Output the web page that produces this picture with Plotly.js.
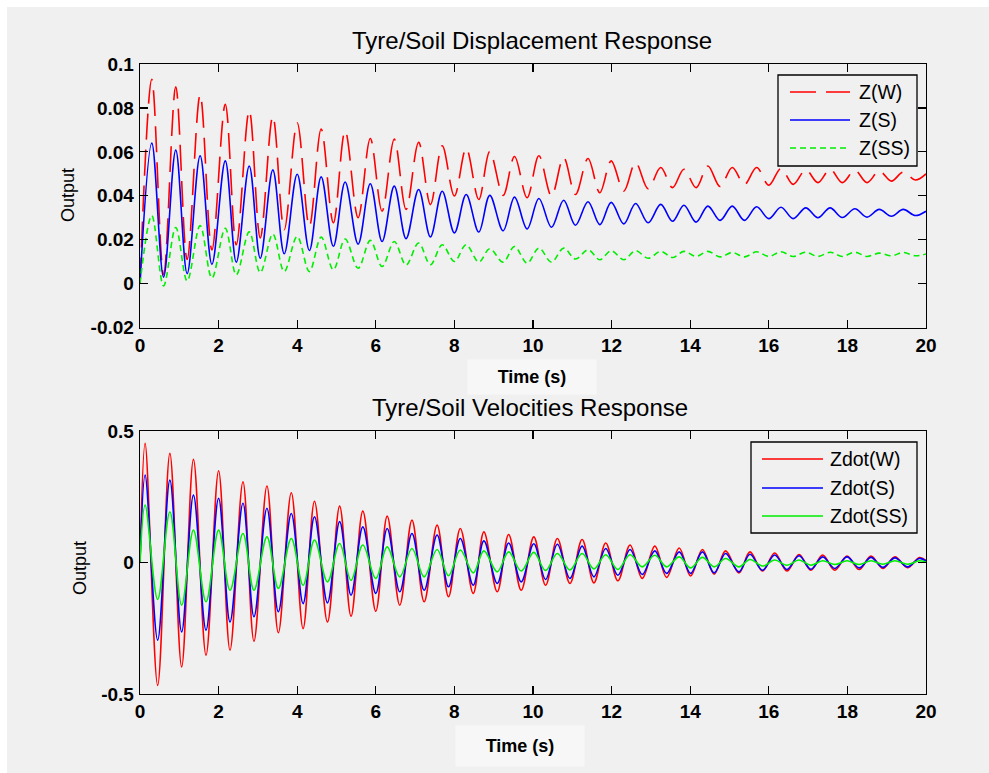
<!DOCTYPE html>
<html><head><meta charset="utf-8">
<script src="https://cdn.plot.ly/plotly-3.0.1.min.js"></script>
<style>
html,body{margin:0;padding:0;background:#ffffff;overflow:hidden;width:989px;height:773px}
#chart{position:absolute;left:7px;top:7px;width:982px;height:766px;}
</style>
</head><body><div id="chart"></div>
<script>
// ---------- data ----------
// Displacement plot: times of successive maxima / minima (s)
const dispPeakTimes = [0.30,0.91,1.53,2.17,2.78,3.38,4.00,4.61,5.22,5.86,6.47,7.09,7.69,8.30,8.90,9.53,10.15,10.78,11.40,11.99,12.61,13.25,13.84,14.45,15.07,15.69,16.31,16.94,17.56,18.19,18.81,19.42];
const dispTroughTimes = [0.60,1.20,1.83,2.45,3.06,3.67,4.31,4.92,5.55,6.16,6.77,7.39,8.00,8.62,9.24,9.85,10.47,11.08,11.70,12.31,12.93,13.55,14.15,14.76,15.38,16.00,16.62,17.25,17.87,18.50,19.12,19.73];
const tStart = 0, tEnd = 20;

const zW_peaks = [0.093,0.0896,0.086,0.0816,0.0788,0.0762,0.0732,0.0704,0.0696,0.0661,0.0658,0.0643,0.0628,0.0616,0.0602,0.0579,0.0582,0.0574,0.057,0.0559,0.0551,0.0529,0.0521,0.0536,0.0529,0.0529,0.0524,0.0518,0.0521,0.0516,0.0513,0.0508];
const zW_troughs = [0.004,0.011,0.0154,0.0177,0.0208,0.0246,0.0261,0.0277,0.030,0.033,0.0338,0.036,0.0399,0.0383,0.0402,0.0391,0.0399,0.0406,0.0414,0.0421,0.0432,0.0437,0.0437,0.0442,0.0452,0.0448,0.0452,0.046,0.046,0.046,0.0467,0.0472];
const zW_start = 0, zW_end = 0.050;

const zS_peaks = [0.064,0.0608,0.0582,0.0559,0.0536,0.0518,0.0498,0.0486,0.0463,0.0455,0.0444,0.0429,0.0421,0.0406,0.0402,0.0394,0.0388,0.038,0.0373,0.037,0.0365,0.0361,0.0357,0.0353,0.0353,0.035,0.0348,0.0345,0.0345,0.0341,0.0338,0.0338];
const zS_troughs = [0.003,0.0046,0.0088,0.0098,0.0116,0.0136,0.0151,0.017,0.018,0.0192,0.0205,0.0213,0.0231,0.0235,0.0241,0.0249,0.0257,0.0266,0.0269,0.0272,0.0277,0.0284,0.028,0.0288,0.0288,0.0296,0.0296,0.030,0.0301,0.0303,0.0307,0.031];
const zS_start = 0, zS_end = 0.033;

const zSS_peaks = [0.031,0.0256,0.0264,0.0252,0.0236,0.0226,0.0215,0.0212,0.0203,0.0197,0.0192,0.0185,0.0177,0.0177,0.0159,0.0169,0.0162,0.0162,0.0154,0.015,0.015,0.0147,0.0147,0.0147,0.0142,0.0145,0.0145,0.0143,0.0143,0.0143,0.0139,0.0142];
const zSS_troughs = [-0.001,0.0012,0.0025,0.004,0.005,0.0055,0.0055,0.0063,0.007,0.0078,0.0085,0.0086,0.0101,0.0098,0.0098,0.0093,0.0098,0.0112,0.0109,0.0109,0.0116,0.0119,0.0124,0.0122,0.0122,0.0124,0.0124,0.0124,0.0124,0.0124,0.0127,0.0127];
const zSS_start = 0, zSS_end = 0.0135;

// Velocity plot: times of successive maxima / minima (s)
const velPeakTimes = [0.13,0.76,1.36,2.00,2.62,3.23,3.85,4.44,5.08,5.67,6.29,6.92,7.56,8.15,8.75,9.38,10.02,10.62,11.25,11.85,12.47,13.10,13.72,14.31,14.90,15.52,16.15,16.77,17.37,17.99,18.60,19.21,19.83];
const velTroughTimes = [0.45,1.06,1.68,2.29,2.90,3.52,4.15,4.77,5.37,6.00,6.61,7.23,7.85,8.48,9.09,9.70,10.32,10.94,11.55,12.16,12.78,13.40,14.01,14.61,15.24,15.84,16.46,17.07,17.68,18.30,18.90,19.53];

const zdW_peaks = [0.454,0.416,0.393,0.35,0.308,0.292,0.266,0.234,0.215,0.196,0.177,0.162,0.143,0.130,0.117,0.107,0.098,0.092,0.088,0.075,0.067,0.063,0.056,0.05,0.045,0.041,0.037,0.031,0.029,0.025,0.025,0.022,0.019];
const zdW_troughs = [-0.467,-0.397,-0.352,-0.333,-0.299,-0.267,-0.251,-0.226,-0.204,-0.185,-0.162,-0.149,-0.130,-0.117,-0.111,-0.105,-0.086,-0.079,-0.077,-0.069,-0.06,-0.056,-0.051,-0.044,-0.039,-0.032,-0.032,-0.029,-0.029,-0.026,-0.022,-0.019];
const zdW_start = 0, zdW_end = 0.008;

const zdS_peaks = [0.333,0.314,0.257,0.245,0.226,0.207,0.187,0.175,0.156,0.136,0.130,0.111,0.105,0.092,0.083,0.075,0.072,0.07,0.063,0.054,0.05,0.045,0.041,0.041,0.035,0.032,0.029,0.026,0.022,0.022,0.02,0.018,0.016];
const zdS_troughs = [-0.295,-0.264,-0.257,-0.226,-0.206,-0.187,-0.156,-0.153,-0.124,-0.117,-0.111,-0.105,-0.092,-0.086,-0.079,-0.073,-0.064,-0.06,-0.054,-0.048,-0.045,-0.041,-0.041,-0.039,-0.035,-0.029,-0.026,-0.025,-0.022,-0.02,-0.018,-0.016];
const zdS_start = 0, zdS_end = 0.006;

const zdSS_peaks = [0.219,0.194,0.124,0.124,0.111,0.098,0.092,0.086,0.073,0.067,0.06,0.054,0.05,0.048,0.045,0.041,0.039,0.035,0.035,0.03,0.03,0.028,0.022,0.02,0.016,0.012,0.01,0.01,0.007,0.007,0.007,0.007,0.007];
const zdSS_troughs = [-0.14,-0.162,-0.149,-0.105,-0.105,-0.098,-0.086,-0.073,-0.067,-0.06,-0.054,-0.054,-0.05,-0.039,-0.035,-0.032,-0.03,-0.028,-0.024,-0.026,-0.016,-0.016,-0.02,-0.016,-0.016,-0.013,-0.01,-0.01,-0.007,-0.007,-0.006,-0.006];
const zdSS_start = 0, zdSS_end = 0.002;

// Labels
const titleTop = 'Tyre/Soil Displacement Response';
const titleBottom = 'Tyre/Soil Velocities Response';
const xLabel = 'Time (s)';
const yLabel = 'Output';
const dispNames = ['Z(W)', 'Z(S)', 'Z(SS)'];
const velNames = ['Zdot(W)', 'Zdot(S)', 'Zdot(SS)'];
const xTickVals = [0,2,4,6,8,10,12,14,16,18,20];
const xTickText = ['0','2','4','6','8','10','12','14','16','18','20'];
const yTopTickVals = [-0.02,0,0.02,0.04,0.06,0.08,0.1];
const yTopTickText = ['-0.02','0','0.02','0.04','0.06','0.08','0.1'];
const yBotTickVals = [-0.5,0,0.5];
const yBotTickText = ['-0.5','0','0.5'];

// ---------- build ----------
function alternate(start, peaks, troughs, end) {
  const out = [start];
  const n = Math.max(peaks.length, troughs.length);
  for (let i = 0; i < n; i++) {
    if (i < peaks.length) out.push(peaks[i]);
    if (i < troughs.length) out.push(troughs[i]);
  }
  out.push(end);
  return out;
}
const tDisp = alternate(tStart, dispPeakTimes, dispTroughTimes, tEnd);
const tVel = alternate(tStart, velPeakTimes, velTroughTimes, tEnd);

const FONT = "'Liberation Sans', Arial, sans-serif";
const RED = '#ff0000', BLUE = '#0000ff', GREEN = '#00ee00';
const DASH_W = '26px,10px', DASH_SS = '6px,4px';
const LW = 1.6;

function tr(x, y, color, dash, xa, ya, name) {
  return {x: x, y: y, type: 'scatter', mode: 'lines', name: name, xaxis: xa, yaxis: ya,
    line: {color: color, width: LW, dash: dash, shape: 'spline', smoothing: 1}, showlegend: false, hoverinfo: 'skip'};
}
const data = [
  tr(tDisp, alternate(zW_start, zW_peaks, zW_troughs, zW_end), RED, DASH_W, 'x', 'y', dispNames[0]),
  tr(tDisp, alternate(zS_start, zS_peaks, zS_troughs, zS_end), BLUE, 'solid', 'x', 'y', dispNames[1]),
  tr(tDisp, alternate(zSS_start, zSS_peaks, zSS_troughs, zSS_end), GREEN, DASH_SS, 'x', 'y', dispNames[2]),
  tr(tVel, alternate(zdW_start, zdW_peaks, zdW_troughs, zdW_end), RED, 'solid', 'x2', 'y2', velNames[0]),
  tr(tVel, alternate(zdS_start, zdS_peaks, zdS_troughs, zdS_end), BLUE, 'solid', 'x2', 'y2', velNames[1]),
  tr(tVel, alternate(zdSS_start, zdSS_peaks, zdSS_troughs, zdSS_end), GREEN, 'solid', 'x2', 'y2', velNames[2])
];

// page geometry (image pixels -> paper coords)
const DIV_L = 7, DIV_T = 7, W = 982, H = 766;
const M = {l: 133, r: 63, t: 57, b: 79};
const PW = W - M.l - M.r, PH = H - M.t - M.b;
const px = xi => (xi - DIV_L - M.l) / PW;
const py = yi => (H - M.b - (yi - DIV_T)) / PH;

const tickFont = {family: FONT, size: 19, color: '#000', weight: 'bold'};
function xax(anchor) {
  return {domain: [0, 1], anchor: anchor, range: [0, 20], tickmode: 'array', tickvals: xTickVals, ticktext: xTickText,
    ticks: 'inside', ticklen: 8, tickwidth: 1.2, tickcolor: '#000', showline: true, linecolor: '#000', linewidth: 1.3,
    mirror: 'ticks', showgrid: false, zeroline: false, tickfont: tickFont, ticklabelstandoff: 0, fixedrange: true};
}
function yax(anchor, domain, range, vals, text) {
  return {domain: domain, anchor: anchor, range: range, tickmode: 'array', tickvals: vals, ticktext: text,
    ticks: 'inside', ticklen: 8, tickwidth: 1.2, tickcolor: '#000', showline: true, linecolor: '#000', linewidth: 1.3,
    mirror: 'ticks', showgrid: false, zeroline: false, tickfont: tickFont, ticklabelstandoff: 1, fixedrange: true};
}

const shapes = [];
const annotations = [];
function ann(text, xi, yi, size, opts) {
  annotations.push(Object.assign({text: text, xref: 'paper', yref: 'paper', x: px(xi), y: py(yi),
    xanchor: 'center', yanchor: 'middle', showarrow: false, font: {family: FONT, size: size, color: '#000'}}, opts || {}));
}
// titles and axis labels
ann(titleTop, 532, 41, 24);
ann(titleBottom, 530, 407, 24);
ann('<b>' + xLabel + '</b>', 532, 377, 18, {width: 128, height: 34, bgcolor: '#f7f7f7', borderpad: 0});
ann('<b>' + xLabel + '</b>', 520, 746, 18, {width: 128, height: 40, bgcolor: '#f7f7f7', borderpad: 0});
ann(yLabel, 68, 195, 18, {textangle: -90});
ann(yLabel, 80, 568, 18, {textangle: -90});

// legends
function legend(box, sx0, sx1, tx, rows, names, styles) {
  shapes.push({type: 'rect', xref: 'paper', yref: 'paper', x0: px(box[0]), x1: px(box[1]), y0: py(box[3]), y1: py(box[2]),
    line: {color: '#000', width: 1.3}, fillcolor: '#f0f0f0', layer: 'above'});
  rows.forEach((ry, i) => {
    shapes.push({type: 'line', xref: 'paper', yref: 'paper', x0: px(sx0), x1: px(sx1), y0: py(ry), y1: py(ry),
      line: {color: styles[i][0], width: LW, dash: styles[i][1]}, layer: 'above'});
    ann(names[i], tx, ry, 19.5, {xanchor: 'left'});
  });
}
legend([778, 917, 75, 166], 790, 850, 857, [92, 120, 148], dispNames, [[RED, DASH_W], [BLUE, 'solid'], [GREEN, DASH_SS]]);
legend([751, 917, 442, 533], 762, 823, 828, [459, 488, 516], velNames, [[RED, 'solid'], [BLUE, 'solid'], [GREEN, 'solid']]);

const layout = {
  width: W, height: H, margin: M, paper_bgcolor: '#f0f0f0', plot_bgcolor: '#f0f0f0',
  showlegend: false, hovermode: false,
  xaxis: xax('y'),
  yaxis: yax('x', [1 - (327.6 - 64) / PH, 1], [-0.02, 0.1], yTopTickVals, yTopTickText),
  xaxis2: xax('y2'),
  yaxis2: yax('x2', [0, (H - M.b - (431.3 - DIV_T)) / PH], [-0.5, 0.5], yBotTickVals, yBotTickText),
  shapes: shapes, annotations: annotations
};
Plotly.newPlot('chart', data, layout, {staticPlot: true, displayModeBar: false});
</script>
</body></html>
